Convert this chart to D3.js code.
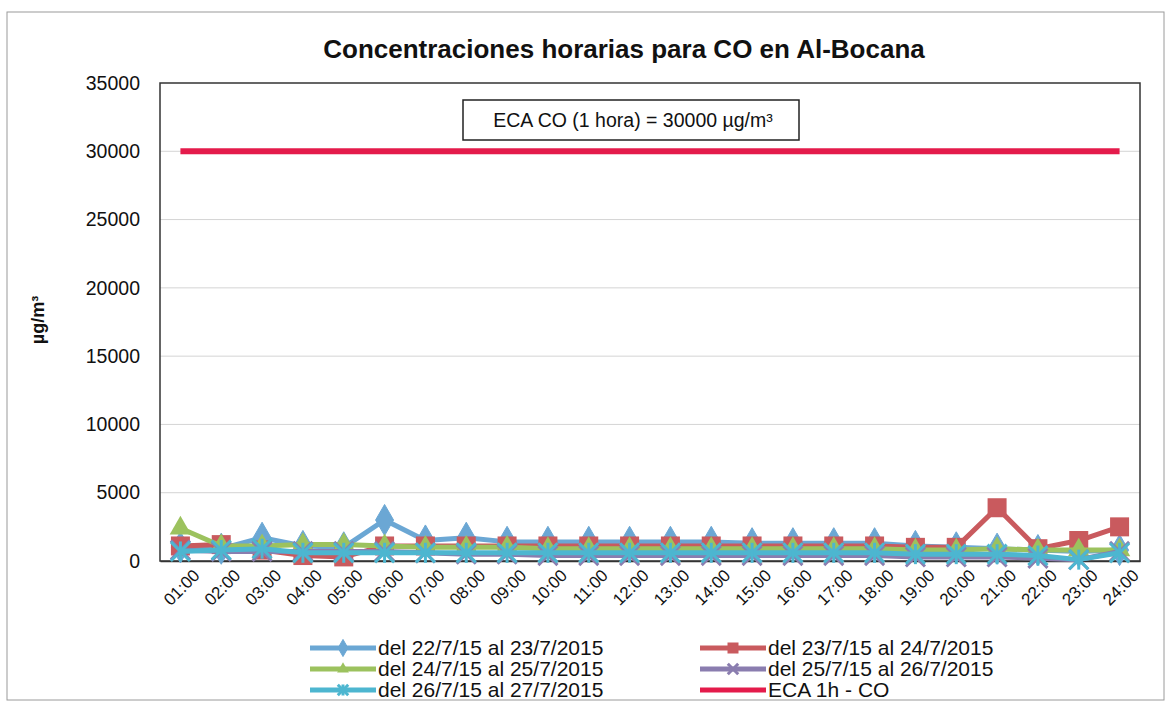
<!DOCTYPE html>
<html>
<head>
<meta charset="utf-8">
<script src="https://cdn.jsdelivr.net/npm/d3@7"></script>
<style>
  body { margin: 0; background: #fff; }
  text { font-family: "Liberation Sans", Arial, sans-serif; }
</style>
</head>
<body>
<div id="chart"></div>
<script>
// hours on the x axis
var hours = ["01:00","02:00","03:00","04:00","05:00","06:00","07:00","08:00","09:00","10:00","11:00","12:00",
             "13:00","14:00","15:00","16:00","17:00","18:00","19:00","20:00","21:00","22:00","23:00","24:00"];

// series values (µg/m3)
var d22 = [1000, 900, 1700, 1100, 1000, 3000, 1500, 1700, 1400, 1400, 1400, 1400, 1400, 1400, 1300, 1300, 1300, 1300, 1100, 1000, 900, 800, 700, 800];
var d23 = [1100, 1200, 800, 400, 300, 1100, 1100, 1100, 1100, 1100, 1100, 1100, 1100, 1100, 1100, 1100, 1100, 1100, 1000, 1000, 3900, 900, 1500, 2500];
var d24 = [2400, 1100, 1100, 1200, 1200, 1100, 1000, 1000, 1000, 900, 900, 900, 900, 900, 900, 900, 900, 900, 800, 800, 900, 800, 800, 800];
var d25 = [800, 700, 700, 700, 700, 700, 600, 500, 500, 400, 400, 400, 400, 400, 400, 400, 400, 400, 300, 300, 300, 200, 100, 700];
var d26 = [700, 800, 900, 600, 600, 600, 600, 600, 600, 600, 600, 600, 600, 600, 600, 600, 600, 600, 500, 500, 500, 400, 100, 600];
var eca = hours.map(function() { return 30000; });

var seriesNames = ["del 22/7/15 al 23/7/2015", "del 23/7/15 al 24/7/2015", "del 24/7/15 al 25/7/2015",
                   "del 25/7/15 al 26/7/2015", "del 26/7/15 al 27/7/2015", "ECA 1h - CO"];
var yTicks = [0, 5000, 10000, 15000, 20000, 25000, 30000, 35000];

var series = [
  { name: seriesNames[0], values: d22, color: "#6ba7d4", marker: "diamond" },
  { name: seriesNames[1], values: d23, color: "#c95a5e", marker: "square" },
  { name: seriesNames[2], values: d24, color: "#9cc25e", marker: "triangle" },
  { name: seriesNames[3], values: d25, color: "#8a7daf", marker: "x" },
  { name: seriesNames[4], values: d26, color: "#4db6d0", marker: "star" },
  { name: seriesNames[5], values: eca, color: "#e41b4b", marker: null }
];

var W = 1171, H = 703;
var m = { left: 160, right: 1140, top: 83, bottom: 561 };

var svg = d3.select("#chart").append("svg").attr("width", W).attr("height", H);

// outer frame of the scanned chart
svg.append("rect").attr("x", 7).attr("y", 12).attr("width", 1157).attr("height", 688)
   .attr("fill", "none").attr("stroke", "#9a9a9a").attr("stroke-width", 1);

var x = d3.scaleBand().domain(hours).range([m.left, m.right]);
var y = d3.scaleLinear().domain([0, 35000]).range([m.bottom, m.top]);

// gridlines
svg.append("g").selectAll("line").data(yTicks.slice(1, -1)).enter().append("line")
   .attr("x1", m.left).attr("x2", m.right)
   .attr("y1", function(d) { return y(d); }).attr("y2", function(d) { return y(d); })
   .attr("stroke", "#d4d4d4").attr("stroke-width", 1);

// plot border
svg.append("rect").attr("x", m.left).attr("y", m.top)
   .attr("width", m.right - m.left).attr("height", m.bottom - m.top)
   .attr("fill", "none").attr("stroke", "#333").attr("stroke-width", 1.5);

// y axis
var yAxis = svg.append("g").attr("transform", "translate(" + m.left + ",0)")
   .call(d3.axisLeft(y).tickValues(yTicks).tickSize(0).tickPadding(20).tickFormat(d3.format("d")));
yAxis.select(".domain").remove();
yAxis.selectAll("text").attr("font-size", 19.5).attr("fill", "#111");

// x axis
var xAxis = svg.append("g").attr("transform", "translate(0," + m.bottom + ")")
   .call(d3.axisBottom(x).tickSize(0).tickPadding(10));
xAxis.select(".domain").attr("stroke", "#333").attr("stroke-width", 1.5);
xAxis.selectAll("text").attr("font-size", 17).attr("fill", "#111")
   .attr("text-anchor", "end").attr("dx", "0.2em").attr("dy", "0.9em")
   .attr("transform", "rotate(-45)");

// title
svg.append("text").attr("x", 624).attr("y", 58).attr("text-anchor", "middle")
   .attr("font-size", 26).attr("font-weight", "bold").attr("fill", "#111")
   .text("Concentraciones horarias para CO en Al-Bocana");

// y axis title
svg.append("text").attr("transform", "translate(44,320) rotate(-90)").attr("text-anchor", "middle")
   .attr("font-size", 18).attr("font-weight", "bold").attr("fill", "#111")
   .text("µg/m³");

// annotation box
svg.append("rect").attr("x", 463).attr("y", 100).attr("width", 336).attr("height", 40)
   .attr("fill", "#fff").attr("stroke", "#222").attr("stroke-width", 1.5);
svg.append("text").attr("x", 633).attr("y", 127).attr("text-anchor", "middle")
   .attr("font-size", 19.5).attr("fill", "#111").text("ECA CO (1 hora) = 30000 µg/m³");

function drawMarker(g, type, color, size) {
  var s = size;
  if (type === "diamond") {
    g.append("path").attr("d", d3.symbol(d3.symbolDiamond, s * s * 0.7)()).attr("fill", color).attr("stroke", color);
  } else if (type === "square") {
    g.append("rect").attr("x", -s / 2).attr("y", -s / 2).attr("width", s).attr("height", s).attr("fill", color);
  } else if (type === "triangle") {
    g.append("path").attr("d", d3.symbol(d3.symbolTriangle, s * s * 0.5)()).attr("fill", color);
  } else if (type === "x") {
    g.append("path").attr("d", d3.symbol(d3.symbolX, s * s * 0.6)()).attr("fill", "none")
     .attr("stroke", color).attr("stroke-width", 3);
  } else if (type === "star") {
    g.append("path").attr("d", d3.symbol(d3.symbolX, s * s * 0.6)()).attr("fill", "none")
     .attr("stroke", color).attr("stroke-width", 3);
    g.append("line").attr("x1", 0).attr("x2", 0).attr("y1", -s / 2).attr("y2", s / 2)
     .attr("stroke", color).attr("stroke-width", 3);
  }
}

var line = d3.line()
  .x(function(d, i) { return x(hours[i]) + x.bandwidth() / 2; })
  .y(function(d) { return y(d); });

series.forEach(function(s) {
  var g = svg.append("g");
  g.append("path").datum(s.values).attr("d", line)
   .attr("fill", "none").attr("stroke", s.color).attr("stroke-width", s.marker ? 5 : 6)
   .attr("stroke-linejoin", "round");
  if (s.marker) {
    s.values.forEach(function(v, i) {
      var mg = g.append("g").attr("transform", "translate(" + (x(hours[i]) + x.bandwidth() / 2) + "," + y(v) + ")");
      drawMarker(mg, s.marker, s.color, s.marker === "square" ? 19 : 20);
    });
  }
});

// legend
var legendPos = [[310, 648], [700, 648], [310, 669], [700, 669], [310, 690], [700, 690]];
series.forEach(function(s, i) {
  var p = legendPos[i];
  var g = svg.append("g").attr("transform", "translate(" + p[0] + "," + p[1] + ")");
  g.append("line").attr("x1", 0).attr("x2", 66).attr("y1", 0).attr("y2", 0)
   .attr("stroke", s.color).attr("stroke-width", 5);
  if (s.marker) {
    var mg = g.append("g").attr("transform", "translate(33,0)");
    drawMarker(mg, s.marker, s.color, 11);
  }
  g.append("text").attr("x", 68).attr("y", 7).attr("font-size", 21).attr("fill", "#111").text(s.name);
});
</script>
</body>
</html>
